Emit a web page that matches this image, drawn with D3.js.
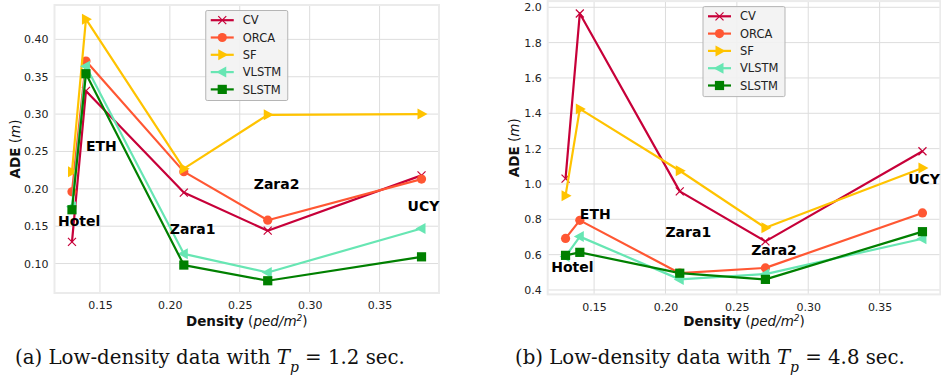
<!DOCTYPE html>
<html>
<head>
<meta charset="utf-8">
<script src="https://cdn.jsdelivr.net/npm/d3@7"></script>
<style>
  body { margin: 0; background: #fff; }
</style>
</head>
<body>
<div id="chart"></div>
<script>
// scenes and densities (ped/m^2)
const scenes = ['Hotel', 'ETH', 'Zara1', 'Zara2', 'UCY'];
const densities = [0.13, 0.14, 0.21, 0.27, 0.38];
const methods = ['CV', 'ORCA', 'SF', 'VLSTM', 'SLSTM'];
const colors = ['#C70039', '#FF5733', '#FFC300', '#67E6B3', '#008000'];
const markers = ['x', 'circle', 'right', 'left', 'square'];

// ADE, Tp = 1.2 s
const cvShort    = [0.129, 0.331, 0.195, 0.144, 0.218];
const orcaShort  = [0.196, 0.371, 0.223, 0.158, 0.213];
const sfShort    = [0.223, 0.427, 0.227, 0.299, 0.300];
const vlstmShort = [0.176, 0.364, 0.113, 0.088, 0.147];
const slstmShort = [0.172, 0.354, 0.098, 0.077, 0.109];

// ADE, Tp = 4.8 s
const cvLong    = [1.03, 1.965, 0.958, 0.675, 1.185];
const orcaLong  = [0.692, 0.794, 0.495, 0.525, 0.836];
const sfLong    = [0.934, 1.425, 1.075, 0.752, 1.09];
const vlstmLong = [0.59, 0.702, 0.46, 0.49, 0.69];
const slstmLong = [0.596, 0.613, 0.495, 0.46, 0.73];

const xTicks = [0.15, 0.20, 0.25, 0.30, 0.35];
const yTicksShort = [0.10, 0.15, 0.20, 0.25, 0.30, 0.35, 0.40];
const yTicksLong = [0.4, 0.6, 0.8, 1.0, 1.2, 1.4, 1.6, 1.8, 2.0];

// scene label anchors in data coords
const labelPosShort = [[0.12, 0.15], [0.14, 0.25], [0.20, 0.14], [0.26, 0.20], [0.37, 0.17]];
const labelPosLong  = [[0.12, 0.5], [0.14, 0.8], [0.20, 0.7], [0.26, 0.6], [0.37, 1.0]];

const SANS = '"DejaVu Sans", sans-serif';
const SERIF = '"DejaVu Serif", "Liberation Serif", serif';

const svg = d3.select('#chart').append('svg')
    .attr('width', 941)
    .attr('height', 378);

function drawMarker(g, type, cx, cy, color) {
    const s = 5;
    if (type === 'x') {
        g.append('path')
            .attr('d', `M${cx - 4},${cy - 4}L${cx + 4},${cy + 4}M${cx - 4},${cy + 4}L${cx + 4},${cy - 4}`)
            .attr('stroke', color).attr('stroke-width', 1.2).attr('fill', 'none');
    } else if (type === 'circle') {
        g.append('circle').attr('cx', cx).attr('cy', cy).attr('r', 4.6).attr('fill', color);
    } else if (type === 'square') {
        g.append('rect').attr('x', cx - 4.6).attr('y', cy - 4.6)
            .attr('width', 9.2).attr('height', 9.2).attr('fill', color);
    } else if (type === 'right') {
        g.append('path')
            .attr('d', `M${cx + 6},${cy}L${cx - 4},${cy - s - 0.5}L${cx - 4},${cy + s + 0.5}Z`)
            .attr('fill', color);
    } else if (type === 'left') {
        g.append('path')
            .attr('d', `M${cx - 6},${cy}L${cx + 4},${cy - s - 0.5}L${cx + 4},${cy + s + 0.5}Z`)
            .attr('fill', color);
    }
}

function drawPanel(opts) {
    const {left, right, top, bottom, yDomain, yTicks, yFmt, series, labels, caption, captionX, yLabelX} = opts;

    const x = d3.scaleLinear().domain([0.1175, 0.3925]).range([left, right]);
    const y = d3.scaleLinear().domain(yDomain).range([bottom, top]);

    const g = svg.append('g').style('font-family', SANS);

    // grid
    g.append('g').selectAll('line')
        .data(xTicks).enter().append('line')
        .attr('x1', d => x(d)).attr('x2', d => x(d))
        .attr('y1', top).attr('y2', bottom)
        .attr('stroke', '#dddddd').attr('stroke-width', 1);
    g.append('g').selectAll('line')
        .data(yTicks).enter().append('line')
        .attr('x1', left).attr('x2', right)
        .attr('y1', d => y(d)).attr('y2', d => y(d))
        .attr('stroke', '#dddddd').attr('stroke-width', 1);

    // frame
    g.append('rect')
        .attr('x', left).attr('y', top)
        .attr('width', right - left).attr('height', bottom - top)
        .attr('fill', 'none').attr('stroke', '#ebebeb').attr('stroke-width', 2);

    // axes
    const xAxis = g.append('g')
        .attr('transform', `translate(0,${bottom})`)
        .call(d3.axisBottom(x).tickValues(xTicks).tickFormat(d3.format('.2f')).tickSize(0).tickPadding(6));
    const yAxis = g.append('g')
        .attr('transform', `translate(${left},0)`)
        .call(d3.axisLeft(y).tickValues(yTicks).tickFormat(d3.format(yFmt)).tickSize(0).tickPadding(6));
    [xAxis, yAxis].forEach(a => {
        a.select('.domain').remove();
        a.selectAll('text').attr('font-size', 11).attr('fill', '#222')
            .attr('font-family', SANS);
    });
    xAxis.selectAll('text').attr('dy', '0.95em');

    // axis titles
    const xt = g.append('text')
        .attr('x', (left + right) / 2).attr('y', 326)
        .attr('text-anchor', 'middle').attr('font-size', 13.5).attr('fill', '#111');
    xt.append('tspan').attr('font-weight', 'bold').text('Density');
    xt.append('tspan').text(' (');
    xt.append('tspan').attr('font-style', 'italic').text('ped/m');
    xt.append('tspan').attr('font-style', 'italic').attr('font-size', 9)
        .attr('baseline-shift', 'super').text('2');
    xt.append('tspan').text(')');

    const yt = g.append('text')
        .attr('transform', `translate(${yLabelX},${(top + bottom) / 2}) rotate(-90)`)
        .attr('text-anchor', 'middle').attr('font-size', 13.5).attr('fill', '#111');
    yt.append('tspan').attr('font-weight', 'bold').text('ADE');
    yt.append('tspan').text(' (');
    yt.append('tspan').attr('font-style', 'italic').text('m');
    yt.append('tspan').text(')');

    // series
    const line = d3.line().x((d, i) => x(densities[i])).y(d => y(d));
    series.forEach((vals, k) => {
        g.append('path').datum(vals)
            .attr('d', line)
            .attr('fill', 'none')
            .attr('stroke', colors[k])
            .attr('stroke-width', 2.2)
            .attr('stroke-linejoin', 'round');
        const mg = g.append('g');
        vals.forEach((v, i) => drawMarker(mg, markers[k], x(densities[i]), y(v), colors[k]));
    });

    // scene labels
    g.selectAll('text.scene')
        .data(scenes).enter().append('text')
        .attr('class', 'scene')
        .attr('x', (d, i) => x(labels[i][0]))
        .attr('y', (d, i) => y(labels[i][1]))
        .attr('font-size', 14).attr('font-weight', 'bold').attr('fill', '#000')
        .text(d => d);

    // legend (upper center)
    const lw = 82, lh = 90;
    const lx = (left + right) / 2 - lw / 2;
    const ly = top + 5.5;
    const leg = g.append('g').attr('transform', `translate(${lx},${ly})`);
    leg.append('rect')
        .attr('width', lw).attr('height', lh)
        .attr('fill', '#f2f2f2').attr('fill-opacity', 0.9)
        .attr('stroke', '#b5b5b5').attr('stroke-width', 1).attr('rx', 1.5);
    methods.forEach((m, k) => {
        const cy = 9.7 + k * 17.3;
        leg.append('line')
            .attr('x1', 5).attr('x2', 28).attr('y1', cy).attr('y2', cy)
            .attr('stroke', colors[k]).attr('stroke-width', 2.2);
        drawMarker(leg, markers[k], 16.5, cy, colors[k]);
        leg.append('text')
            .attr('x', 37).attr('y', cy).attr('dy', '0.36em')
            .attr('font-size', 11.5).attr('fill', '#222')
            .text(m);
    });

    // caption, sized to the reference width
    const cap = svg.append('text')
        .attr('x', captionX).attr('y', 364)
        .attr('font-family', SERIF)
        .attr('font-size', 17).attr('fill', '#111');
    cap.append('tspan').text(caption[0] + ' ');
    cap.append('tspan').attr('font-style', 'italic').text('T');
    cap.append('tspan').attr('font-style', 'italic').attr('font-size', 12)
        .attr('baseline-shift', 'sub').text('p');
    cap.append('tspan').text(' = ' + caption[1]);
    const w = cap.node().getComputedTextLength();
    cap.attr('font-size', 17 * 390 / w);
    cap.selectAll('tspan').filter(function() { return this.getAttribute('font-size'); })
        .attr('font-size', 12 * 390 / w);
}

drawPanel({
    left: 54.5, right: 439, top: 5, bottom: 293,
    yDomain: [0.0606, 0.446], yTicks: yTicksShort, yFmt: '.2f',
    series: [cvShort, orcaShort, sfShort, vlstmShort, slstmShort],
    labels: labelPosShort,
    caption: ['(a) Low-density data with', '1.2 sec.'],
    captionX: 15, yLabelX: 20
});

drawPanel({
    left: 547.7, right: 940.3, top: 1.1, bottom: 294.4,
    yDomain: [0.375, 2.035], yTicks: yTicksLong, yFmt: '.1f',
    series: [cvLong, orcaLong, sfLong, vlstmLong, slstmLong],
    labels: labelPosLong,
    caption: ['(b) Low-density data with', '4.8 sec.'],
    captionX: 515, yLabelX: 519
});
</script>
</body>
</html>
